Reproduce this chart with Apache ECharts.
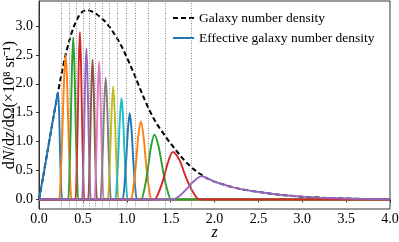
<!DOCTYPE html>
<html>
<head>
<meta charset="utf-8">
<script src="https://cdn.jsdelivr.net/npm/echarts@6/dist/echarts.min.js"></script>
<style>html,body{margin:0;padding:0;background:#fff;}#c{width:399px;height:242px;}</style>
</head>
<body>
<div id="c"></div>
<script>
// Galaxy number density (dashed curve)
const densZ = [0,0.05,0.1,0.15,0.2,0.25,0.3,0.35,0.4,0.45,0.5,0.55,0.6,0.65,0.7,0.75,0.8,0.85,0.9,0.95,1.0,1.05,1.1,1.15,1.2,1.25,1.3,1.35,1.4,1.45,1.5,1.55,1.6,1.65,1.7,1.75,1.8,1.85,1.9,2.0,2.1,2.2,2.3,2.4,2.5,2.6,2.7,2.8,2.9,3.0,3.2,3.4,3.6,3.8,4.0];
const densN = [0,0.42,0.86,1.30,1.72,2.12,2.48,2.77,3.00,3.16,3.25,3.27,3.25,3.21,3.15,3.08,2.99,2.88,2.76,2.62,2.46,2.29,2.11,1.92,1.74,1.57,1.42,1.29,1.18,1.07,0.97,0.87,0.78,0.69,0.61,0.54,0.48,0.43,0.38,0.31,0.26,0.215,0.18,0.155,0.13,0.11,0.09,0.075,0.06,0.05,0.033,0.022,0.014,0.009,0.006];

// Bin edges (dotted vertical lines)
const binEdges = [0.25,0.344,0.428,0.503,0.572,0.64,0.718,0.80,0.886,0.993,1.102,1.242,1.437,1.733];

// Effective galaxy number density per bin: [z, value]
const bin01 = [[0,0],[0.05,0.42],[0.1,0.86],[0.15,1.3],[0.19,1.64],[0.215,1.85],[0.228,1.55],[0.238,0.95],[0.248,0.4],[0.256,0.1],[0.264,0],[0.274,0],[4,0]];
const bin02 = [[0,0],[0.22,0],[0.23,0],[0.248,0.42],[0.266,1.15],[0.285,2.05],[0.303,2.5],[0.32,2.05],[0.336,1.15],[0.353,0.42],[0.37,0],[0.38,0],[4,0]];
const bin03 = [[0,0],[0.323,0],[0.333,0],[0.347,0.48],[0.362,1.29],[0.376,2.3],[0.39,2.8],[0.404,2.3],[0.418,1.29],[0.433,0.48],[0.447,0],[0.457,0],[4,0]];
const bin04 = [[0,0],[0.406,0],[0.416,0],[0.4285,0.49],[0.441,1.33],[0.4535,2.37],[0.466,2.89],[0.4785,2.37],[0.491,1.33],[0.5035,0.49],[0.516,0],[0.526,0],[4,0]];
const bin05 = [[0,0],[0.48,0],[0.49,0],[0.5025,0.44],[0.515,1.2],[0.5275,2.14],[0.54,2.61],[0.5525,2.14],[0.565,1.2],[0.5775,0.44],[0.59,0],[0.6,0],[4,0]];
const bin06 = [[0,0],[0.55,0],[0.56,0],[0.5725,0.41],[0.585,1.11],[0.5975,1.98],[0.61,2.42],[0.6225,1.98],[0.635,1.11],[0.6475,0.41],[0.66,0],[0.67,0],[4,0]];
const bin07 = [[0,0],[0.623,0],[0.633,0],[0.646,0.4],[0.659,1.09],[0.672,1.95],[0.685,2.38],[0.698,1.95],[0.711,1.09],[0.724,0.4],[0.737,0],[0.747,0],[4,0]];
const bin08 = [[0,0],[0.69,0],[0.70,0],[0.715,0.36],[0.73,0.97],[0.745,1.72],[0.76,2.1],[0.775,1.72],[0.79,0.97],[0.805,0.36],[0.82,0],[0.83,0],[4,0]];
const bin09 = [[0,0],[0.773,0],[0.783,0],[0.7985,0.33],[0.814,0.9],[0.8295,1.6],[0.845,1.95],[0.8605,1.6],[0.876,0.9],[0.8915,0.33],[0.907,0],[0.917,0],[4,0]];
const bin10 = [[0,0],[0.86,0],[0.87,0],[0.8875,0.3],[0.905,0.8],[0.9225,1.43],[0.94,1.75],[0.9575,1.43],[0.975,0.8],[0.9925,0.3],[1.01,0],[1.02,0],[4,0]];
const bin11 = [[0,0],[0.944,0],[0.954,0],[0.974,0.25],[0.994,0.69],[1.014,1.22],[1.034,1.49],[1.054,1.22],[1.074,0.69],[1.094,0.25],[1.114,0],[1.124,0],[4,0]];
const bin12 = [[0,0],[1.04,0],[1.05,0],[1.0775,0.23],[1.105,0.62],[1.1325,1.11],[1.16,1.35],[1.19,1.11],[1.22,0.62],[1.25,0.23],[1.28,0],[1.29,0],[4,0]];
const bin13 = [[0,0],[1.155,0],[1.165,0],[1.2025,0.19],[1.24,0.52],[1.2775,0.92],[1.315,1.12],[1.3625,0.92],[1.41,0.52],[1.4575,0.19],[1.505,0],[1.515,0],[4,0]];
const bin14 = [[0,0],[1.306,0],[1.316,0],[1.3685,0.14],[1.421,0.37],[1.4735,0.66],[1.526,0.82],[1.601,0.68],[1.676,0.38],[1.751,0.14],[1.826,0],[1.836,0],[4,0]];
const bin15 = [[0,0],[1.51,0],[1.52,0],[1.6,0.06],[1.68,0.18],[1.76,0.31],[1.85,0.4],[1.9,0.38],[2.0,0.31],[2.1,0.26],[2.2,0.215],[2.3,0.18],[2.4,0.155],[2.5,0.13],[2.6,0.11],[2.7,0.09],[2.8,0.075],[2.9,0.06],[3.0,0.05],[3.2,0.033],[3.4,0.022],[3.6,0.014],[3.8,0.009],[4.0,0.006]];

const yTicks = [0,0.5,1.0,1.5,2.0,2.5,3.0];
const legendNames = ['Galaxy number density','Effective galaxy number density'];

const bins = [bin01,bin02,bin03,bin04,bin05,bin06,bin07,bin08,bin09,bin10,bin11,bin12,bin13,bin14,bin15];
const palette = ['#1f77b4','#ff7f0e','#2ca02c','#d62728','#9467bd','#8c564b','#e377c2','#7f7f7f','#bcbd22','#17becf'];
const FONT = 'Liberation Serif, Times New Roman, serif';
const frameColor = '#333';

const series = [{
  name: legendNames[0],
  type: 'line',
  data: densZ.map((z,i)=>[z,densN[i]]),
  smooth: 0.3,
  symbol: 'none',
  lineStyle: {color:'#000', width:2, type:[5,3]},
  itemStyle: {color:'#000'},
  markLine: {
    silent: true,
    symbol: ['none','none'],
    label: {show:false},
    lineStyle: {color:'#8a8a8a', width:1, type:[1,1.5]},
    data: binEdges.map(e=>({xAxis:e}))
  }
}];
bins.forEach((b,i)=>{
  series.push({
    name: i===0 ? legendNames[1] : 'bin'+(i+1),
    type: 'line',
    data: b,
    smooth: 0.3,
    symbol: 'none',
    lineStyle: {color: palette[i%10], width:1.9},
    itemStyle: {color: palette[i%10]}
  });
});

const chart = echarts.init(document.getElementById('c'), null, {renderer:'canvas'});
chart.setOption({
  animation: false,
  backgroundColor: '#fff',
  grid: {left:39, right:9, top:1, bottom:33, show:true, borderColor:frameColor, borderWidth:1, backgroundColor:'transparent', containLabel:false, outerBoundsMode:'none'},
  legend: {
    data: legendNames,
    orient: 'vertical',
    left: 172, top: 11, padding: 0,
    itemWidth: 21, itemHeight: 10, itemGap: 6,
    itemStyle: {opacity: 0},
    textStyle: {fontFamily: FONT, fontSize: 13.5, color:'#000'},
    selectedMode: false
  },
  xAxis: {
    type:'value', min:0, max:4, interval:0.5,
    name:'z', nameLocation:'middle', nameGap:16, nameMoveOverlap:false,
    nameTextStyle:{fontFamily:FONT, fontSize:16, fontStyle:'italic', color:'#000'},
    axisLine:{show:true, lineStyle:{color:frameColor}},
    axisTick:{show:true, inside:false, length:3, lineStyle:{color:frameColor}},
    axisLabel:{fontFamily:FONT, fontSize:14, color:'#000', margin:3, formatter:v=>v.toFixed(1)},
    splitLine:{show:false}
  },
  yAxis: {
    type:'value', min:-0.1635, max:3.43,
    name:'{a|d}{b|N}{a|/d}{b|z}{a|/dΩ(×10⁸ sr⁻¹)}', nameLocation:'middle', nameGap:21, nameMoveOverlap:false,
    nameTextStyle:{fontFamily:FONT, fontSize:16, color:'#000',
      rich:{a:{fontFamily:FONT, fontSize:16, color:'#000'}, b:{fontFamily:FONT, fontSize:16, fontStyle:'italic', color:'#000'}}},
    axisLine:{show:true, lineStyle:{color:frameColor}},
    axisTick:{show:true, inside:false, length:3, customValues:yTicks, lineStyle:{color:frameColor}},
    axisLabel:{fontFamily:FONT, fontSize:14, color:'#000', margin:6, customValues:yTicks, formatter:v=>v.toFixed(1)},
    splitLine:{show:false}
  },
  series: series
});
</script>
</body>
</html>
